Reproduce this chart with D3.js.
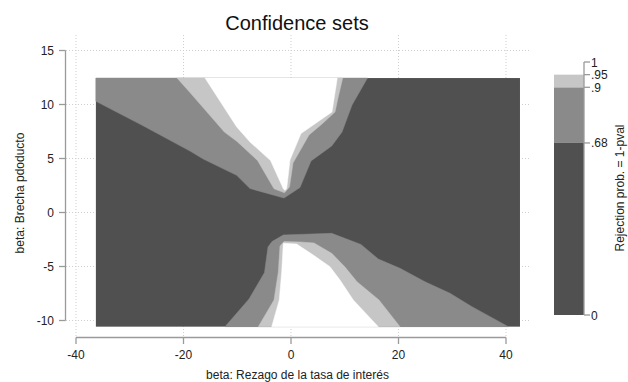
<!DOCTYPE html>
<html>
<head>
<meta charset="utf-8">
<script src="https://cdn.jsdelivr.net/npm/d3@7"></script>
<style>
  body { margin: 0; background: #fff; }
  svg { display: block; font-family: "Liberation Sans", Arial, sans-serif; }
</style>
</head>
<body>
<svg id="chart" width="628" height="382"></svg>
<script>
var width = 628,
    height = 382

// limites de la grilla evaluada (beta1 = rezago tasa, beta2 = brecha producto)
var gridX = [-36.3, 42.6],
    gridY = [-10.57, 12.45]

var xTicks = [-40, -20, 0, 20, 40],
    yTicks = [-10, -5, 0, 5, 10, 15],
    niveles = [0, 0.68, 0.9, 0.95],
    nivelLabels = ["0", ".68", ".9", ".95", "1"],
    nivelTicks = [0, 0.68, 0.9, 0.95, 1],
    colores = ["#505050", "#8a8a8a", "#c6c6c6", "#ffffff"]

// contornos, parte superior (se cierran por arriba)
var sup68 = [[-36.3, 10.30], [-27.78, 8.10], [-18.79, 5.69], [-16.32, 4.95], [-10.10, 3.44],
             [-7.63, 2.22], [-1.30, 1.34], [1.67, 2.31], [3.72, 4.77], [7.57, 6.16],
             [9.49, 7.45], [11.35, 9.95], [14.23, 12.45]]
var sup90 = [[-21.21, 12.45], [-18.79, 11.1], [-12.4, 7.45], [-10.10, 6.6], [-6.2, 4.8],
             [-3.16, 2.2], [-1.21, 1.83], [-0.28, 2.36], [0.37, 4.58], [3.35, 7.18],
             [5.77, 8.19], [8.19, 9.31], [8.74, 10.60], [9.62, 12.45]]
var sup95 = [[-16.00, 12.45], [-10.10, 7.92], [-7.63, 6.53], [-3.81, 4.81], [-1.43, 2.20],
             [-1.12, 2.04], [-0.80, 2.22], [-0.19, 4.86], [1.86, 7.31], [7.63, 9.31],
             [8.61, 12.45]]

// parte inferior (se cierran por abajo)
var inf68 = [[-12.28, -10.57], [-7.81, -8.01], [-4.93, -5.56], [-4.28, -3.19], [-3.53, -2.69],
             [-1.43, -2.08], [7.57, -1.93], [13.02, -2.96], [16.24, -4.31], [20.28, -5.17],
             [24.93, -6.41], [29.58, -7.48], [33.67, -8.72], [40.43, -10.57]]
var inf90 = [[-6.08, -10.57], [-3.16, -8.10], [-2.36, -5.51], [-2.05, -3.10], [-1.30, -2.69],
             [1.67, -2.73], [4.28, -2.82], [7.63, -3.80], [10.05, -5.05], [12.28, -6.41],
             [16.37, -8.10], [20.28, -10.57]]
var inf95 = [[-3.59, -10.57], [-2.18, -8.10], [-1.73, -5.48], [-1.43, -2.85], [1.06, -2.92],
             [4.15, -3.94], [7.26, -5.02], [9.12, -6.25], [11.59, -8.10], [16.24, -10.57]]

var svg = d3.select("#chart")

var x = d3.scaleLinear().domain([-40, 40]).range([76, 506])
var y = d3.scaleLinear().domain([-10, 15]).range([320.5, 50.5])

// grilla punteada
svg.append("g").selectAll("line")
    .data(xTicks)
  .enter().append("line")
    .attr("x1", function(d) { return x(d) }).attr("x2", function(d) { return x(d) })
    .attr("y1", 35).attr("y2", 337)
    .attr("stroke", "#cfcfcf").attr("stroke-dasharray", "1,2")
svg.append("g").selectAll("line")
    .data(yTicks)
  .enter().append("line")
    .attr("x1", 66).attr("x2", 530)
    .attr("y1", function(d) { return y(d) }).attr("y2", function(d) { return y(d) })
    .attr("stroke", "#cfcfcf").attr("stroke-dasharray", "1,2")

// fondo: region de menor rechazo
svg.append("rect")
    .attr("x", x(gridX[0])).attr("y", y(gridY[1]))
    .attr("width", x(gridX[1]) - x(gridX[0]))
    .attr("height", y(gridY[0]) - y(gridY[1]))
    .attr("fill", colores[0])

var linea = d3.line().x(function(d) { return x(d[0]) }).y(function(d) { return y(d[1]) })

function cerrar(pts, borde) {
    var p = pts.slice()
    if (p[0][1] != borde) p.unshift([p[0][0], borde])
    if (p[p.length - 1][1] != borde) p.push([p[p.length - 1][0], borde])
    return linea(p) + "Z"
}

var capas = [
    {pts: sup68, borde: gridY[1], c: colores[1]},
    {pts: inf68, borde: gridY[0], c: colores[1]},
    {pts: sup90, borde: gridY[1], c: colores[2]},
    {pts: inf90, borde: gridY[0], c: colores[2]},
    {pts: sup95, borde: gridY[1], c: colores[3]},
    {pts: inf95, borde: gridY[0], c: colores[3]}
]
svg.append("g").selectAll("path")
    .data(capas)
  .enter().append("path")
    .attr("d", function(d) { return cerrar(d.pts, d.borde) })
    .attr("fill", function(d) { return d.c })
    .attr("stroke", function(d) { return d.c })
    .attr("stroke-width", 0.5)

// ejes
var ejeColor = "#9a9a9a"
var gy = svg.append("g")
gy.append("line").attr("x1", 65.5).attr("x2", 65.5).attr("y1", y(15)).attr("y2", y(-10))
    .attr("stroke", ejeColor).attr("stroke-width", 1.3)
gy.selectAll(".t").data(yTicks).enter().append("line")
    .attr("x1", 59).attr("x2", 65.5)
    .attr("y1", function(d) { return y(d) }).attr("y2", function(d) { return y(d) })
    .attr("stroke", ejeColor).attr("stroke-width", 1.3)
gy.selectAll("text").data(yTicks).enter().append("text")
    .attr("x", 54).attr("y", function(d) { return y(d) + 4.5 })
    .attr("text-anchor", "end").attr("font-size", 12).attr("fill", "#222")
    .text(function(d) { return d })

var gx = svg.append("g")
gx.append("line").attr("x1", x(-40)).attr("x2", x(40)).attr("y1", 337.5).attr("y2", 337.5)
    .attr("stroke", ejeColor).attr("stroke-width", 1.3)
gx.selectAll(".t").data(xTicks).enter().append("line")
    .attr("x1", function(d) { return x(d) }).attr("x2", function(d) { return x(d) })
    .attr("y1", 337.5).attr("y2", 344)
    .attr("stroke", ejeColor).attr("stroke-width", 1.3)
gx.selectAll("text").data(xTicks).enter().append("text")
    .attr("x", function(d) { return x(d) }).attr("y", 358.5)
    .attr("text-anchor", "middle").attr("font-size", 12).attr("fill", "#222")
    .text(function(d) { return d })

// titulos
svg.append("text").attr("x", 297).attr("y", 30).attr("text-anchor", "middle")
    .attr("font-size", 20).attr("fill", "#111").text("Confidence sets")
svg.append("text").attr("x", 297.5).attr("y", 379).attr("text-anchor", "middle")
    .attr("font-size", 12).attr("fill", "#222").text("beta: Rezago de la tasa de interés")
svg.append("text").attr("transform", "translate(24,193) rotate(-90)")
    .attr("text-anchor", "middle").attr("font-size", 12).attr("fill", "#222")
    .text("beta: Brecha pdoducto")

// leyenda
var z = d3.scaleLinear().domain([0, 1]).range([315, 62])
var leg = svg.append("g")
leg.selectAll("rect").data(niveles.slice(0, 3)).enter().append("rect")
    .attr("x", 554).attr("width", 30)
    .attr("y", function(d, i) { return z(niveles[i + 1]) })
    .attr("height", function(d, i) { return z(d) - z(niveles[i + 1]) })
    .attr("fill", function(d, i) { return colores[i] })
leg.append("line").attr("x1", 584).attr("x2", 584).attr("y1", z(1)).attr("y2", z(0))
    .attr("stroke", ejeColor).attr("stroke-width", 1.3)
leg.selectAll(".t").data(nivelTicks).enter().append("line")
    .attr("x1", 584).attr("x2", 590)
    .attr("y1", function(d) { return z(d) }).attr("y2", function(d) { return z(d) })
    .attr("stroke", ejeColor).attr("stroke-width", 1.3)
leg.selectAll("text").data(nivelTicks).enter().append("text")
    .attr("x", 591).attr("y", function(d) { return z(d) + 4.5 })
    .attr("font-size", 12).attr("fill", "#222")
    .text(function(d, i) { return nivelLabels[i] })
svg.append("text").attr("transform", "translate(624,188) rotate(-90)")
    .attr("text-anchor", "middle").attr("font-size", 12).attr("fill", "#222")
    .text("Rejection prob. = 1-pval")
</script>
</body>
</html>
